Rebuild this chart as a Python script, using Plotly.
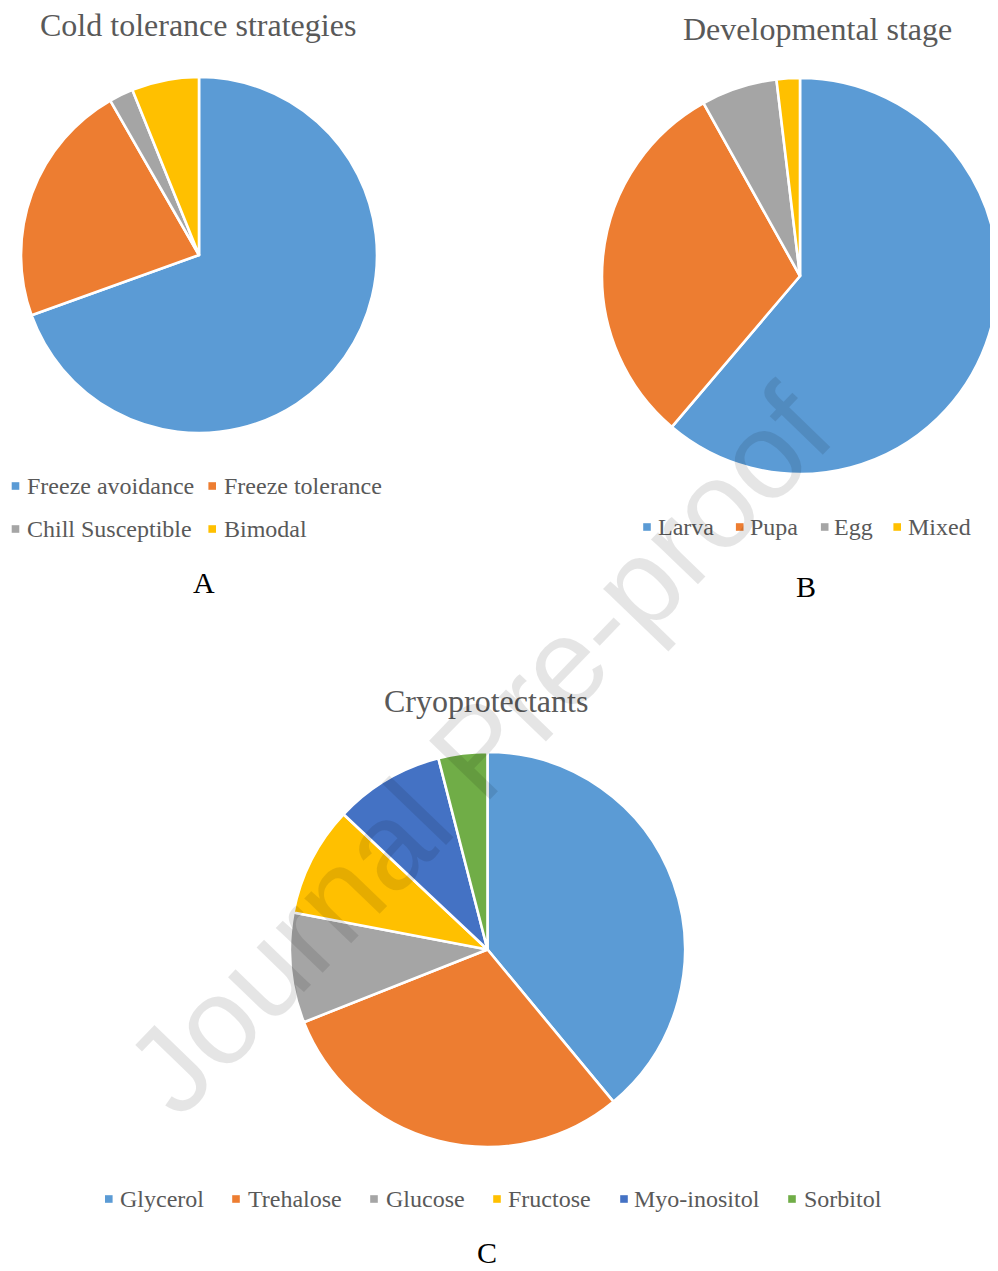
import plotly.graph_objects as go

# ---------------- data ----------------
a_title = "Cold tolerance strategies"
a_labels = ["Freeze avoidance", "Freeze tolerance", "Chill Susceptible", "Bimodal"]
a_values = [69.5, 22.2, 2.2, 6.1]

b_title = "Developmental stage"
b_labels = ["Larva", "Pupa", "Egg", "Mixed"]
b_values = [61.2, 30.7, 6.2, 1.9]

c_title = "Cryoprotectants"
c_labels = ["Glycerol", "Trehalose", "Glucose", "Fructose", "Myo-inositol", "Sorbitol"]
c_values = [39, 30, 9, 9, 9, 4]

panel_letters = ["A", "B", "C"]
watermark_text = "Journal Pre-proof"

colors = ["#5B9BD5", "#ED7D31", "#A5A5A5", "#FFC000", "#4472C4", "#70AD47"]

# ---------------- layout (page pixels) ----------------
PAGE_W, PAGE_H = 998, 1271
OFF = 8  # default body margin of the html page
W, H = PAGE_W - OFF, PAGE_H - OFF
SERIF = "Liberation Serif, Times New Roman, serif"
GREY = "#595959"


def px(x):
    return (x - OFF) / W


def py(y):
    return 1 - (y - OFF) / H


panels = [
    dict(title=a_title, labels=a_labels, values=a_values,
         box=(21, 377, 77, 433), title_xy=(198, 25), letter_xy=(204, 582),
         letter_size=30,
         legend=[(15.5, 486, 26.5), (212.2, 486, 224), (15.5, 529, 26.5), (212.2, 529, 224)]),
    dict(title=b_title, labels=b_labels, values=b_values,
         box=(602, 998, 78, 474), title_xy=(817, 29), letter_xy=(806, 586),
         letter_size=30,
         legend=[(647, 527, 658), (739.7, 527, 750), (824.7, 527, 833.5), (897.2, 527, 908.3)]),
    dict(title=c_title, labels=c_labels, values=c_values,
         box=(290, 685, 752, 1147), title_xy=(486, 701), letter_xy=(487, 1252),
         letter_size=30,
         legend=[(108.8, 1199, 119.5), (236, 1199, 247.5), (374, 1199, 385.5),
                 (497, 1199, 508), (624, 1199, 633.5), (792, 1199, 803.5)]),
]

fig = go.Figure()
annotations = []
shapes = []
SQ = 7.6

for i, p in enumerate(panels):
    x0, x1, y0, y1 = p["box"]
    n = len(p["labels"])
    fig.add_trace(go.Pie(
        labels=p["labels"], values=p["values"],
        marker=dict(colors=colors[:n], line=dict(color="white", width=2.6)),
        sort=False, direction="clockwise", rotation=0,
        textinfo="none", hoverinfo="label+value", showlegend=False,
        domain=dict(x=[px(x0), min(px(x1), 1)], y=[py(y1), py(y0)]),
    ))
    annotations.append(dict(
        text=p["title"], x=px(p["title_xy"][0]), y=py(p["title_xy"][1]),
        xref="paper", yref="paper", xanchor="center", yanchor="middle",
        showarrow=False, font=dict(family=SERIF, size=32, color=GREY)))
    annotations.append(dict(
        text=panel_letters[i], x=px(p["letter_xy"][0]), y=py(p["letter_xy"][1]),
        xref="paper", yref="paper", xanchor="center", yanchor="middle",
        showarrow=False, font=dict(family=SERIF, size=p["letter_size"], color="black")))
    for k, (sx, sy, tx) in enumerate(p["legend"]):
        shapes.append(dict(
            type="rect", xref="paper", yref="paper",
            x0=px(sx - SQ / 2), x1=px(sx + SQ / 2), y0=py(sy + SQ / 2), y1=py(sy - SQ / 2),
            fillcolor=colors[k], line=dict(width=0)))
        annotations.append(dict(
            text=p["labels"][k], x=px(tx), y=py(sy),
            xref="paper", yref="paper", xanchor="left", yanchor="middle",
            xshift=-2, showarrow=False,
            font=dict(family=SERIF, size=24, color=GREY)))

# watermark
annotations.append(dict(
    text=watermark_text, x=px(478), y=py(750), xref="paper", yref="paper",
    xanchor="center", yanchor="middle", showarrow=False, textangle=-46,
    font=dict(family="Liberation Sans, Arial, sans-serif", size=123,
              color="rgba(0,0,0,0.10)")))

fig.update_layout(
    width=W, height=H, margin=dict(l=0, r=0, t=0, b=0),
    paper_bgcolor="white", plot_bgcolor="white",
    annotations=annotations, shapes=shapes,
)

fig.write_html("out.html")
